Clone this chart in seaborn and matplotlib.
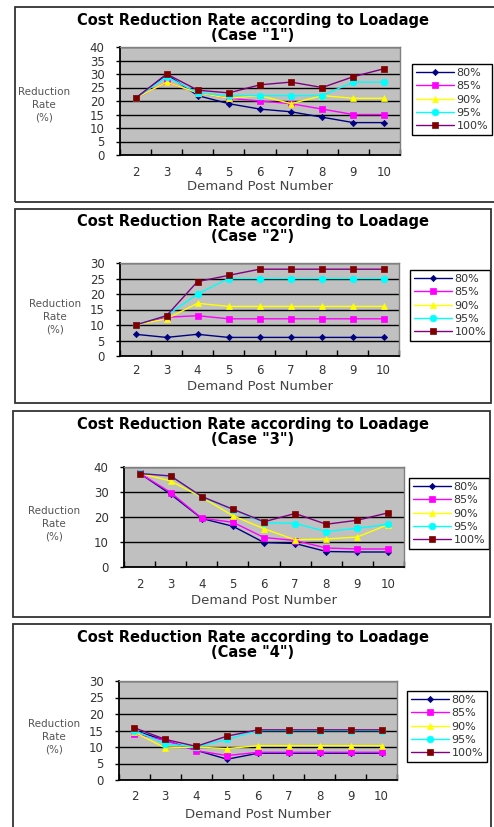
import matplotlib
matplotlib.use("Agg")
import matplotlib.pyplot as plt
from matplotlib.patches import Rectangle
from matplotlib.ticker import MultipleLocator, FixedLocator
import seaborn as sns
import pandas as pd

# Demand post numbers on the category axis
posts = ["2", "3", "4", "5", "6", "7", "8", "9", "10"]
loadages = ["80%", "85%", "90%", "95%", "100%"]

# Case 1 reduction rates (%)
case1_80 = [21, 29.8, 22, 19, 17, 16, 14, 12, 12]
case1_85 = [21, 27, 23, 21, 20, 19, 17, 15, 15]
case1_90 = [21, 27, 23, 21, 22, 19, 22, 21, 21]
case1_95 = [21, 29, 23, 22, 22, 22, 22, 27, 27]
case1_100 = [21, 30, 24, 23, 26, 27, 25, 29, 32]

# Case 2 reduction rates (%)
case2_80 = [7, 6, 7, 6, 6, 6, 6, 6, 6]
case2_85 = [10, 12.5, 13, 12, 12, 12, 12, 12, 12]
case2_90 = [10, 12, 17, 16, 16, 16, 16, 16, 16]
case2_95 = [10, 13, 20, 25, 25, 25, 25, 25, 25]
case2_100 = [10, 13, 24, 26, 28, 28, 28, 28, 28]

# Case 3 reduction rates (%)
case3_80 = [37.5, 29.1, 19.4, 16.3, 9.8, 9.4, 6.2, 6, 6]
case3_85 = [37.5, 29.8, 19.5, 17.9, 11.8, 10.6, 7.6, 7.2, 7.2]
case3_90 = [37.5, 34.4, 27.9, 20.5, 15.3, 10.9, 11.2, 12, 17]
case3_95 = [37.5, 36.5, 28, 23, 17.8, 17.4, 14.2, 15.5, 17.1]
case3_100 = [37.4, 36.4, 28.2, 23.1, 18.1, 21.4, 17.1, 18.7, 21.7]

# Case 4 reduction rates (%)
case4_80 = [15, 12, 9, 6.3, 8.1, 8.1, 8.1, 8.1, 8.1]
case4_85 = [14, 12, 8.9, 7.4, 8.4, 8.4, 8.4, 8.4, 8.4]
case4_90 = [14.5, 9.7, 10, 9.5, 10.4, 10.4, 10.4, 10.4, 10.4]
case4_95 = [15, 11, 10, 12.3, 15, 15, 15, 15, 15]
case4_100 = [15.8, 12.3, 10.2, 13.3, 15.2, 15.2, 15.2, 15.2, 15.2]

cases = [
    ("1", [case1_80, case1_85, case1_90, case1_95, case1_100], 40, 5),
    ("2", [case2_80, case2_85, case2_90, case2_95, case2_100], 30, 5),
    ("3", [case3_80, case3_85, case3_90, case3_95, case3_100], 40, 10),
    ("4", [case4_80, case4_85, case4_90, case4_95, case4_100], 30, 5),
]

# line colour, marker, marker face colour, marker size
styles = [
    ("#000080", "D", "#000080", 3.2),
    ("#FF00FF", "s", "#FF00FF", 4.5),
    ("#FFFF00", "^", "#FFFF00", 4.8),
    ("#00FFFF", "o", "#00FFFF", 4.8),
    ("#800080", "s", "#800000", 4.8),
]

# Pixel layout of each panel: frame box, plot area, legend, text rows
W, H = 494, 827
layout = [
    dict(box=(15, 7, 520, 202), plot=(120, 47, 400, 155), leg=(412, 64),
         title=(253, 28), ylab=(44, 87), xt=172, xl=187),
    dict(box=(15, 209, 491, 403), plot=(120, 263, 399, 356), leg=(410, 270),
         title=(253, 229), ylab=(55, 299), xt=371, xl=387),
    dict(box=(13, 411, 490, 617), plot=(124, 467, 404, 567), leg=(409, 478),
         title=(253, 432), ylab=(54, 506), xt=584, xl=601),
    dict(box=(13, 624, 491, 840), plot=(119, 681, 397, 780), leg=(407, 691),
         title=(253, 645), ylab=(54, 719), xt=797, xl=814),
]

sns.set_theme(style="white")
plt.rcParams["font.family"] = ["DejaVu Sans"]

fig = plt.figure(figsize=(W / 100, H / 100), dpi=100)
fig.patch.set_facecolor("white")


def fx(px):
    return px / W


def fy(py):
    return 1 - py / H


for (case, series, ymax, ystep), lay in zip(cases, layout):
    bx0, by0, bx1, by1 = lay["box"]
    fig.patches.append(Rectangle((fx(bx0), fy(by1)), fx(bx1 - bx0), (by1 - by0) / H,
                                 transform=fig.transFigure, fill=False,
                                 edgecolor="#333333", linewidth=1.3, zorder=0))

    px0, py0, px1, py1 = lay["plot"]
    ax = fig.add_axes([fx(px0), fy(py1), fx(px1 - px0), (py1 - py0) / H])
    ax.set_facecolor("#C0C0C0")

    frames = []
    for name, vals in zip(loadages, series):
        frames.append(pd.DataFrame({"pos": range(len(posts)), "rate": vals, "load": name}))
    df = pd.concat(frames, ignore_index=True)

    handles = []
    for name, (lc, mk, mfc, ms) in zip(loadages, styles):
        sub = df[df["load"] == name]
        sns.lineplot(data=sub, x="pos", y="rate", ax=ax, color=lc, linewidth=1.0,
                     marker=mk, markersize=ms, markerfacecolor=mfc,
                     markeredgecolor=mfc, markeredgewidth=0.5, zorder=3)
        handles.append(ax.lines[-1])

    ax.set_xlim(-0.5, len(posts) - 0.5)
    ax.set_ylim(0, ymax)
    ax.yaxis.set_major_locator(MultipleLocator(ystep))
    ax.grid(axis="y", color="black", linewidth=1.0)
    ax.grid(axis="x", visible=False)
    ax.set_axisbelow(True)

    ax.set_xticks(range(len(posts)))
    ax.set_xticklabels([])
    ax.xaxis.set_minor_locator(FixedLocator([i - 0.5 for i in range(len(posts) + 1)]))
    ax.tick_params(axis="x", which="major", length=0)
    ax.tick_params(axis="x", which="minor", direction="in", length=4, width=1,
                   color="black", bottom=True)
    ax.tick_params(axis="y", which="major", direction="out", length=3, width=1,
                   color="black", left=True, labelsize=8.5, labelcolor="#333333", pad=8)

    for side in ("top", "right"):
        ax.spines[side].set_color("#808080")
        ax.spines[side].set_linewidth(1.0)
    for side in ("left", "bottom"):
        ax.spines[side].set_color("black")
        ax.spines[side].set_linewidth(1.3)

    ax.set_xlabel("")
    ax.set_ylabel("")

    # Category labels below the axis
    for i, lab in enumerate(posts):
        xd = ax.transData.transform((i, 0))[0]
        fig.text(xd / fig.dpi / fig.get_figwidth(), fy(lay["xt"]), lab, ha="center",
                 va="center", fontsize=8.5, color="#333333")

    fig.text(fx((px0 + px1) / 2), fy(lay["xl"]), "Demand Post Number", ha="center",
             va="center", fontsize=9.5, color="#444444")

    tx, ty = lay["title"]
    fig.text(fx(tx), fy(ty), f'Cost Reduction Rate according to Loadage\n(Case "{case}")',
             ha="center", va="center", fontsize=10.5, fontweight="bold", color="black",
             linespacing=0.95)

    lx, ly = lay["ylab"]
    fig.text(fx(lx), fy(ly), "Reduction\nRate\n(%)", ha="center", va="top",
             fontsize=7.5, color="#555555", linespacing=1.35)

    gx, gy = lay["leg"]
    leg = ax.legend(handles, loadages, loc="upper left",
                    bbox_to_anchor=(fx(gx), fy(gy)), bbox_transform=fig.transFigure,
                    frameon=True, fancybox=False, framealpha=1, edgecolor="black",
                    fontsize=8, handlelength=3.4, handletextpad=0.25,
                    labelspacing=0.3, borderpad=0.35, borderaxespad=0)
    leg.get_frame().set_linewidth(1.0)
    for t in leg.get_texts():
        t.set_color("#333333")

fig.savefig("out.png", dpi=100, facecolor="white")
